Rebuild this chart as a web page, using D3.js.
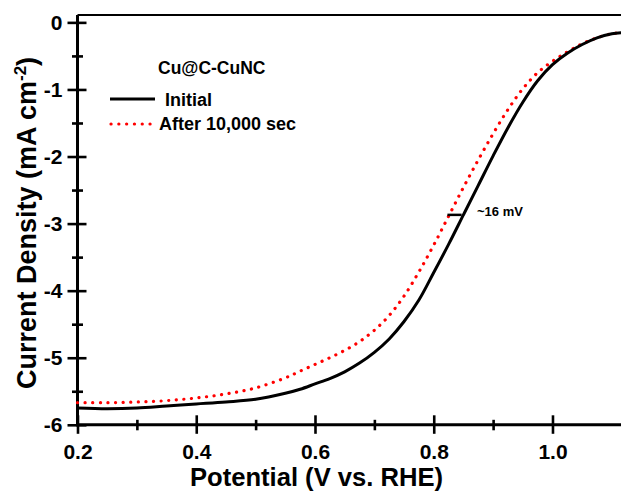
<!DOCTYPE html>
<html>
<head>
<meta charset="utf-8">
<script src="https://cdn.jsdelivr.net/npm/d3@7"></script>
<style>
  html, body { margin: 0; padding: 0; background: #fff; }
  svg { display: block; font-family: "Liberation Sans", Arial, sans-serif; }
</style>
</head>
<body>
<div id="chart"></div>
<script>
// ---------- data ----------
const potential = [0.20, 0.25, 0.30, 0.35, 0.40, 0.45, 0.50, 0.55, 0.575, 0.60, 0.625, 0.65, 0.675, 0.70, 0.725, 0.75, 0.775, 0.80, 0.825, 0.85, 0.875, 0.90, 0.925, 0.95, 0.975, 1.00, 1.025, 1.05, 1.075, 1.10, 1.12];
const initialJ = [-5.75, -5.76, -5.75, -5.72, -5.69, -5.66, -5.62, -5.53, -5.47, -5.39, -5.31, -5.21, -5.08, -4.92, -4.72, -4.46, -4.14, -3.73, -3.31, -2.87, -2.43, -1.99, -1.57, -1.19, -0.87, -0.63, -0.46, -0.33, -0.23, -0.17, -0.15];
const afterJ   = [-5.67, -5.67, -5.66, -5.64, -5.60, -5.54, -5.45, -5.30, -5.20, -5.10, -5.00, -4.89, -4.76, -4.59, -4.37, -4.08, -3.72, -3.32, -2.89, -2.46, -2.05, -1.66, -1.30, -0.99, -0.75, -0.58, -0.44, -0.32, -0.23, -0.17, -0.15];
const seriesNames = ["Initial", "After 10,000 sec"];
const legendTitle = "Cu@C-CuNC";
const xMajorTicks = [0.2, 0.4, 0.6, 0.8, 1.0];
const xMinorTicks = [0.3, 0.5, 0.7, 0.9];
const yMajorTicks = [0, -1, -2, -3, -4, -5, -6];
const yMinorTicks = [-0.5, -1.5, -2.5, -3.5, -4.5, -5.5];
const annotation = { x1: 0.823, x2: 0.847, y: -2.87, label: "~16 mV" };

// ---------- layout ----------
const W = 621, H = 492;
const svg = d3.select("#chart").append("svg").attr("width", W).attr("height", H);

const x = d3.scaleLinear().domain([0.2, 1.1154]).range([77.5, 621]);
const y = d3.scaleLinear().domain([-6, 0.11]).range([424.8, 15]);

// top frame line
svg.append("line")
  .attr("x1", x(0.2)).attr("x2", W)
  .attr("y1", y(0.11)).attr("y2", y(0.11))
  .attr("stroke", "#000").attr("stroke-width", 2);

// ---------- axes ----------
function styleAxis(g, major, horizontal) {
  g.select(".domain").remove();
  g.selectAll(".tick line")
    .attr("stroke", "#000")
    .attr("stroke-width", 2.6);
  if (horizontal) {
    g.selectAll(".tick line").attr("y1", major ? -9.5 : -5).attr("y2", major ? 9 : 5.5);
  } else {
    g.selectAll(".tick line").attr("x1", major ? -10 : -5.5).attr("x2", major ? 9 : 5.5);
  }
}

const xAxisY = y(-6);
const gxMinor = svg.append("g").attr("transform", `translate(0,${xAxisY})`)
  .call(d3.axisBottom(x).tickValues(xMinorTicks).tickFormat("").tickSize(0));
styleAxis(gxMinor, false, true);
const gx = svg.append("g").attr("transform", `translate(0,${xAxisY})`)
  .call(d3.axisBottom(x).tickValues(xMajorTicks).tickFormat(d3.format(".1f")).tickSize(0).tickPadding(19));
styleAxis(gx, true, true);
gx.selectAll(".tick text")
  .attr("font-size", 21).attr("font-weight", "bold").attr("fill", "#000")
  .attr("font-family", "Liberation Sans, Arial, sans-serif");

const yAxisX = x(0.2);
const gyMinor = svg.append("g").attr("transform", `translate(${yAxisX},0)`)
  .call(d3.axisLeft(y).tickValues(yMinorTicks).tickFormat("").tickSize(0));
styleAxis(gyMinor, false, false);
const gy = svg.append("g").attr("transform", `translate(${yAxisX},0)`)
  .call(d3.axisLeft(y).tickValues(yMajorTicks).tickFormat(d => d3.format("d")(d).replace("−", "-")).tickSize(0).tickPadding(15));
styleAxis(gy, true, false);
gy.selectAll(".tick text")
  .attr("font-size", 21).attr("font-weight", "bold").attr("fill", "#000")
  .attr("font-family", "Liberation Sans, Arial, sans-serif");

// axis lines
svg.append("line")
  .attr("x1", yAxisX).attr("x2", yAxisX)
  .attr("y1", y(0.11)).attr("y2", xAxisY + 1.5)
  .attr("stroke", "#000").attr("stroke-width", 3);
svg.append("line")
  .attr("x1", yAxisX - 1.5).attr("x2", W)
  .attr("y1", xAxisY).attr("y2", xAxisY)
  .attr("stroke", "#000").attr("stroke-width", 3);

// ---------- curves ----------
const lineGen = (vals) => d3.line()
  .x((d, i) => x(potential[i]))
  .y((d, i) => y(vals[i]))
  .curve(d3.curveCatmullRom.alpha(0.5))(vals);

svg.append("path")
  .attr("d", lineGen(afterJ))
  .attr("fill", "none")
  .attr("stroke", "#ff0000")
  .attr("stroke-width", 3.2)
  .attr("stroke-linecap", "round")
  .attr("stroke-dasharray", "0.1 7.5");

svg.append("path")
  .attr("d", lineGen(initialJ))
  .attr("fill", "none")
  .attr("stroke", "#000")
  .attr("stroke-width", 3);

// annotation
svg.append("line")
  .attr("x1", x(annotation.x1)).attr("x2", x(annotation.x2))
  .attr("y1", y(annotation.y)).attr("y2", y(annotation.y))
  .attr("stroke", "#000").attr("stroke-width", 2.5);
svg.append("text")
  .attr("x", 477).attr("y", 216)
  .attr("font-size", 13).attr("font-weight", "bold")
  .text(annotation.label);

// ---------- legend ----------
svg.append("text")
  .attr("x", 158).attr("y", 74)
  .attr("font-size", 17.5).attr("font-weight", "bold")
  .text(legendTitle);
svg.append("line")
  .attr("x1", 110).attr("x2", 155).attr("y1", 99).attr("y2", 99)
  .attr("stroke", "#000").attr("stroke-width", 3);
svg.append("text")
  .attr("x", 165).attr("y", 106)
  .attr("font-size", 18).attr("font-weight", "bold")
  .text(seriesNames[0]);
svg.append("line")
  .attr("x1", 111).attr("x2", 152).attr("y1", 124).attr("y2", 124)
  .attr("stroke", "#ff0000").attr("stroke-width", 3.2)
  .attr("stroke-linecap", "round").attr("stroke-dasharray", "0.1 7.7");
svg.append("text")
  .attr("x", 159).attr("y", 130)
  .attr("font-size", 18).attr("font-weight", "bold")
  .text(seriesNames[1]);

// ---------- axis titles ----------
svg.append("text")
  .attr("x", 316.5).attr("y", 486)
  .attr("text-anchor", "middle")
  .attr("font-size", 25.6).attr("font-weight", "bold")
  .text("Potential (V vs. RHE)");

const yt = svg.append("text")
  .attr("transform", "translate(36,223) rotate(-90)")
  .attr("text-anchor", "middle")
  .attr("font-size", 27).attr("font-weight", "bold");
yt.append("tspan").text("Current Density (mA cm");
yt.append("tspan").attr("font-size", 17).attr("dy", -10).text("-2");
yt.append("tspan").attr("dy", 10).text(")");
</script>
</body>
</html>
